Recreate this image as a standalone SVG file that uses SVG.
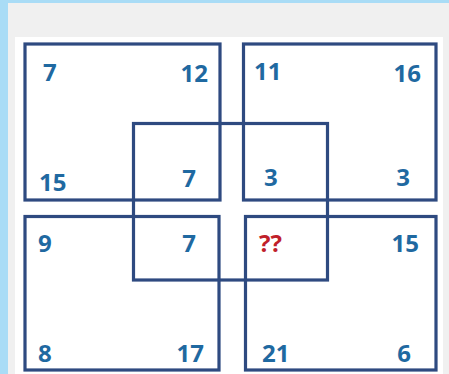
<svg xmlns="http://www.w3.org/2000/svg" width="449" height="374" viewBox="0 0 449 374">
<style>
.box{fill:none;stroke:#2e4a80;stroke-width:3.2}
.n{font-family:"Open Sans","Noto Sans","DejaVu Sans",sans-serif;font-weight:700;font-size:24px;fill:#1f69a1}
.q{fill:#c0202a}
.e{text-anchor:end}
</style>
<rect x="0" y="0" width="449" height="374" fill="#a9dcf6"/>
<rect x="8" y="3" width="441" height="371" fill="#f0f0f0"/>
<rect x="15" y="37" width="428" height="337" fill="#ffffff"/>
<g id="connectors"/>
<g id="box-top-left"><rect class="box" x="25" y="44" width="195" height="156"/></g>
<g id="box-top-right"><rect class="box" x="243.5" y="44" width="192.5" height="156"/></g>
<g id="box-middle"><rect class="box" x="133.5" y="123.5" width="194" height="156.5"/></g>
<g id="box-bottom-left"><rect class="box" x="25" y="216.5" width="194" height="153.5"/></g>
<g id="box-bottom-right"><rect class="box" x="245.5" y="216.5" width="190.5" height="153.5"/></g>
<g id="labels">
<text class="n" x="43" y="81">7</text>
<text class="n e" x="208" y="82">12</text>
<text class="n" x="254" y="80">11</text>
<text class="n e" x="421" y="82">16</text>
<text class="n" x="39" y="191">15</text>
<text class="n e" x="196" y="187">7</text>
<text class="n" x="264" y="186">3</text>
<text class="n e" x="410" y="186">3</text>
<text class="n" x="38" y="252">9</text>
<text class="n e" x="196" y="252">7</text>
<text class="n q" x="259" y="252">??</text>
<text class="n e" x="419" y="252">15</text>
<text class="n" x="38" y="362">8</text>
<text class="n e" x="204" y="362">17</text>
<text class="n" x="262" y="362">21</text>
<text class="n e" x="411" y="362">6</text>
</g>
</svg>
